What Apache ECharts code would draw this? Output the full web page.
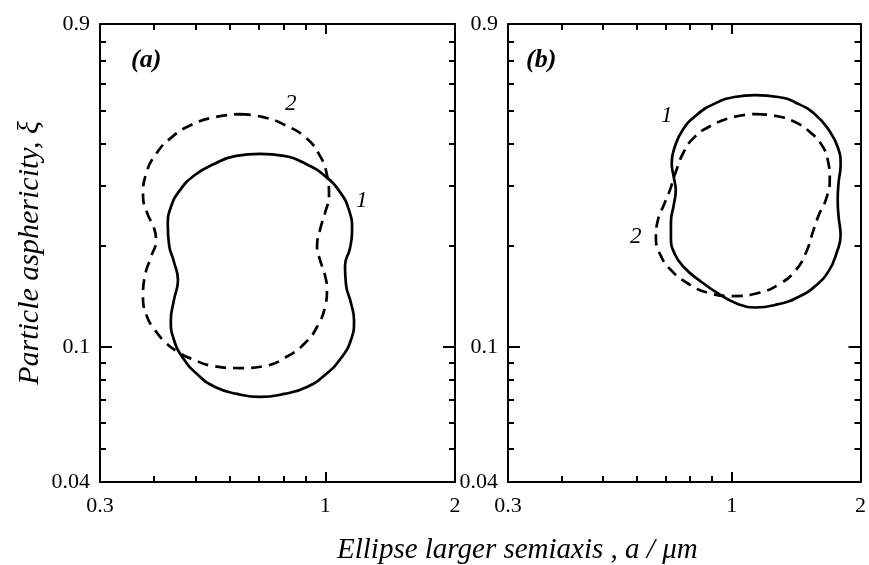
<!DOCTYPE html>
<html>
<head>
<meta charset="utf-8">
<script src="https://cdn.jsdelivr.net/npm/echarts@6/dist/echarts.min.js"></script>
<style>
html,body{margin:0;padding:0;background:#fff;}
#chart{width:869px;height:565px;}
</style>
</head>
<body>
<div id="chart"></div>
<script>
// ---- axis ranges & ticks ----
const xRange = [0.3, 2];
const yRange = [0.04, 0.9];
const xLabelValues = [0.3, 1, 2];
const xMajorTicks = [1];
const xMinorTicks = [0.4, 0.5, 0.6, 0.7, 0.8, 0.9];
const yLabelValues = [0.04, 0.1, 0.9];
const yMajorTicks = [0.1];
const yMinorTicks = [0.05, 0.06, 0.07, 0.08, 0.09, 0.2, 0.3, 0.4, 0.5, 0.6, 0.7, 0.8];

// ---- panel (a): [a (µm), asphericity] ----
const curveA1 = [[0.705,0.372],[0.802,0.367],[0.902,0.3475],[0.999,0.320],[1.082,0.287],[1.135,0.254],[1.154,0.222],[1.141,0.196],[1.111,0.174],[1.117,0.153],[1.147,0.135],[1.166,0.120],[1.147,0.105],[1.088,0.0929],[1.004,0.0833],[0.907,0.0763],[0.802,0.0728],[0.705,0.0713],[0.624,0.0728],[0.555,0.0763],[0.504,0.0833],[0.4675,0.0929],[0.4455,0.105],[0.438,0.120],[0.4455,0.138],[0.455,0.158],[0.4455,0.1785],[0.434,0.200],[0.431,0.2295],[0.438,0.259],[0.460,0.291],[0.498,0.3225],[0.552,0.3475],[0.621,0.367],[0.705,0.372]];
const curveA2 = [[0.634,0.488],[0.717,0.478],[0.806,0.453],[0.902,0.415],[0.972,0.367],[1.009,0.3225],[1.020,0.281],[0.9985,0.249],[0.972,0.222],[0.957,0.198],[0.972,0.181],[0.9985,0.163],[1.009,0.1475],[0.9985,0.1314],[0.962,0.1163],[0.902,0.1036],[0.819,0.0942],[0.724,0.0880],[0.634,0.0868],[0.549,0.0880],[0.4905,0.0923],[0.455,0.0968],[0.4246,0.1036],[0.4025,0.1124],[0.386,0.1228],[0.3775,0.1407],[0.3816,0.163],[0.394,0.1846],[0.4047,0.2073],[0.4004,0.2249],[0.386,0.249],[0.3775,0.281],[0.3836,0.3246],[0.4047,0.372],[0.4384,0.415],[0.488,0.453],[0.5547,0.478],[0.634,0.488]];

// ---- panel (b) ----
const curveB1 = [[1.135,0.555],[1.284,0.548],[1.436,0.522],[1.572,0.485],[1.686,0.438],[1.769,0.390],[1.797,0.345],[1.778,0.307],[1.769,0.272],[1.778,0.242],[1.797,0.214],[1.759,0.190],[1.686,0.168],[1.572,0.152],[1.436,0.141],[1.284,0.134],[1.135,0.131],[1.037,0.134],[0.947,0.142],[0.837,0.158],[0.7725,0.1725],[0.736,0.1885],[0.721,0.210],[0.721,0.234],[0.732,0.263],[0.740,0.291],[0.732,0.318],[0.724,0.350],[0.736,0.390],[0.768,0.438],[0.828,0.485],[0.907,0.522],[1.015,0.548],[1.135,0.555]];
const curveB2 = [[1.141,0.488],[1.270,0.4815],[1.4055,0.462],[1.523,0.432],[1.624,0.395],[1.677,0.357],[1.695,0.312],[1.659,0.272],[1.598,0.2456],[1.548,0.219],[1.491,0.190],[1.413,0.169],[1.297,0.154],[1.1535,0.1446],[1.009,0.1416],[0.883,0.1446],[0.785,0.155],[0.721,0.169],[0.683,0.186],[0.665,0.210],[0.672,0.237],[0.694,0.263],[0.717,0.291],[0.740,0.329],[0.7725,0.377],[0.815,0.415],[0.8925,0.450],[1.009,0.478],[1.141,0.488]];

const FONT = 'Liberation Serif, Times New Roman, serif';
const BLACK = '#000';

function fmt(v){ return String(+(+v).toPrecision(3)); }

function axis(kind, g, position, ticks, tickLen, labels, showLine){
  const range = kind === 'x' ? xRange : yRange;
  return {
    type: 'log', logBase: 10, gridIndex: g, position: position,
    min: range[0], max: range[1],
    axisLine: { show: showLine, onZero: false, lineStyle: { color: BLACK, width: 2 } },
    axisTick: { show: true, inside: true, length: tickLen, customValues: ticks, lineStyle: { color: BLACK, width: 2 } },
    axisLabel: labels ? { show: true, customValues: labels, formatter: fmt, color: BLACK, fontSize: 22, fontFamily: FONT, margin: kind === 'x' ? 13 : 10, showMinLabel: true, showMaxLabel: true } : { show: false },
    splitLine: { show: false }, minorTick: { show: false }, minorSplitLine: { show: false }
  };
}

const xAxes = [], yAxes = [];
[0, 1].forEach(g => {
  xAxes.push(axis('x', g, 'bottom', xMajorTicks, 10, xLabelValues, true));
  xAxes.push(axis('x', g, 'bottom', xMinorTicks, 6, null, false));
  xAxes.push(axis('x', g, 'top', xMajorTicks, 10, null, true));
  xAxes.push(axis('x', g, 'top', xMinorTicks, 6, null, false));
  yAxes.push(axis('y', g, 'left', yMajorTicks, 12, yLabelValues, true));
  yAxes.push(axis('y', g, 'left', yMinorTicks, 6, null, false));
  yAxes.push(axis('y', g, 'right', yMajorTicks, 12, null, true));
  yAxes.push(axis('y', g, 'right', yMinorTicks, 6, null, false));
});
yAxes[0].name = 'Particle asphericity, ξ';
yAxes[0].nameLocation = 'middle';
yAxes[0].nameRotate = 90;
yAxes[0].nameGap = 55;
yAxes[0].nameTextStyle = { fontFamily: FONT, fontStyle: 'italic', fontSize: 30, color: BLACK };

function curve(data, g, dashed){
  return {
    type: 'line', data: data, xAxisIndex: g * 4, yAxisIndex: g * 4,
    showSymbol: false, symbol: 'none', smooth: 0.5, silent: true,
    lineStyle: { color: BLACK, width: 2.7, type: dashed ? [11, 7] : 'solid' }
  };
}

function txt(x, y, s, size, weight){
  return { type: 'text', left: x, top: y, silent: true,
    style: { text: s, fill: BLACK, font: 'italic ' + (weight || 'normal') + ' ' + size + 'px ' + FONT } };
}

const option = {
  backgroundColor: '#fff',
  animation: false,
  grid: [
    { left: 100, top: 24, width: 355, height: 458 },
    { left: 508, top: 24, width: 355, height: 458 }
  ],
  xAxis: xAxes,
  yAxis: yAxes,
  series: [
    curve(curveA1, 0, false), curve(curveA2, 0, true),
    curve(curveB1, 1, false), curve(curveB2, 1, true)
  ],
  graphic: [
    txt(131, 47, '(a)', 26, 'bold'),
    txt(526, 47, '(b)', 26, 'bold'),
    txt(285, 92, '2', 23),
    txt(356, 189, '1', 23),
    txt(661, 104, '1', 23),
    txt(630, 225, '2', 23),
    txt(337, 536, 'Ellipse larger semiaxis , a / μm', 29)
  ]
};

echarts.init(document.getElementById('chart'), null, { renderer: 'canvas' }).setOption(option);
</script>
</body>
</html>
